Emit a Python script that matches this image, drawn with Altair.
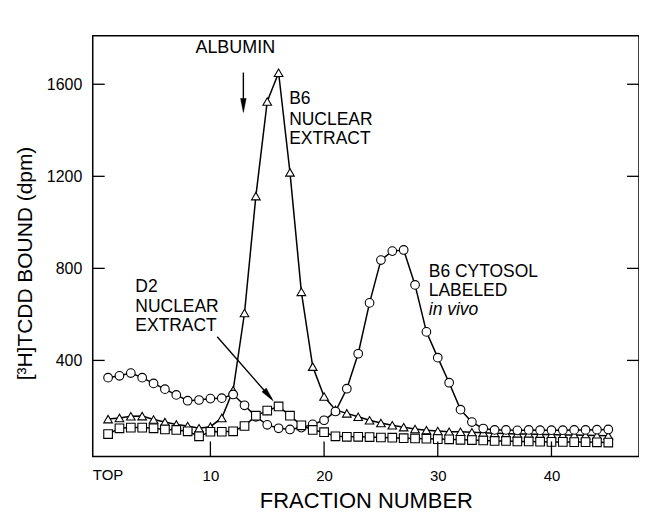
import altair as alt
import pandas as pd

# ---------------- data ----------------
fractions = list(range(1, 46))

b6_nuclear = [145, 150, 157, 158, 143, 132, 122, 115, 105, 112,
              150, 270, 606, 1114, 1525, 1650, 1217, 698, 373, 243,
              185, 170, 155, 140, 128, 118, 110, 102, 97, 93,
              90, 90, 88, 86, 84, 82, 80, 80, 78, 78,
              76, 76, 75, 74, 73]

b6_cytosol = [325, 333, 345, 325, 300, 275, 250, 225, 228, 234,
              236, 252, 205, 155, 120, 105, 100, 108, 122, 140,
              178, 277, 429, 650, 836, 875, 880, 728, 524, 412,
              303, 186, 132, 104, 98, 98, 96, 98, 97, 97,
              97, 98, 98, 99, 100]

d2_nuclear = [80, 105, 108, 108, 105, 100, 98, 92, 70, 90,
              90, 92, 115, 160, 182, 200, 160, 118, 98, 88,
              70, 68, 68, 67, 65, 64, 62, 61, 60, 58,
              57, 55, 54, 52, 50, 50, 48, 48, 47, 46,
              46, 45, 45, 44, 43]

series_names = ["B6 nuclear", "B6 cytosol", "D2 nuclear"]
series_shapes = ["triangle-up", "circle", "square"]

x_tick_values = [10, 20, 30, 40]
y_tick_values = [400, 800, 1200, 1600]

# annotation table (fraction, dpm, text)
ann_fraction = [16.93, 16.93, 16.93, 29.21, 29.21, 3.4, 3.4, 3.4]
ann_value = [1534, 1443, 1361, 784, 702, 720, 633, 548]
ann_text = ["B6", "NUCLEAR", "EXTRACT", "B6 CYTOSOL", "LABELED", "D2", "NUCLEAR", "EXTRACT"]

italic_fraction = [29.21]
italic_value = [620]
italic_text = ["in vivo"]

albumin_fraction = [12.19]
albumin_value = [1759]

# arrows: shafts and heads
arrow_id = ["alb", "alb", "d2", "d2"]
arrow_fraction = [12.9, 12.9, 10.6, 15.4]
arrow_value = [1651, 1500, 503, 232]
head_fraction = [12.9, 15.12]
head_value = [1508, 248]
head_angle = [0, 320]

# ---------------- layout ----------------
W, H = 548, 422
FONT = "Liberation Sans"

rows = []
for name, vals in zip(series_names, [b6_nuclear, b6_cytosol, d2_nuclear]):
    for f, v in zip(fractions, vals):
        rows.append({"fraction": f, "value": v, "series": name})
df = pd.DataFrame(rows)

xscale = alt.Scale(domain=[-0.35, 47.7], nice=False, zero=False)
yscale = alt.Scale(domain=[-17, 1811], nice=False, zero=False)

xenc = alt.X("fraction:Q", scale=xscale,
             axis=alt.Axis(values=x_tick_values, ticks=False, tickSize=0, domain=False, grid=False,
                           labelFont=FONT, labelFontSize=15, labelColor="black", labelPadding=12,
                           title="FRACTION NUMBER", titleFont=FONT, titleFontSize=22,
                           titleFontWeight="normal", titleColor="black",
                           titleY=44, titleBaseline="middle"))
yenc = alt.Y("value:Q", scale=yscale,
             axis=alt.Axis(values=y_tick_values, format="d", ticks=False, tickSize=0, domain=False,
                           grid=False, labelFont=FONT, labelFontSize=16, labelColor="black",
                           labelPadding=11,
                           title="[³H]TCDD BOUND (dpm)", titleFont=FONT, titleFontSize=21,
                           titleFontWeight="normal", titleColor="black",
                           titleX=-67, titleY=228, titleAngle=270,
                           titleAlign="center", titleBaseline="middle"))

base = alt.Chart(df)
lines = base.mark_line(color="black", strokeWidth=1.5).encode(x=xenc, y=yenc, detail="series:N")
points = base.mark_point(filled=True, fill="white", stroke="black", strokeWidth=1.1,
                         opacity=1, size=75).encode(
    x=xenc, y=yenc,
    shape=alt.Shape("series:N", scale=alt.Scale(domain=series_names, range=series_shapes), legend=None))

# inward tick marks
ytick_df = pd.DataFrame({"value": y_tick_values})
yticks = alt.Chart(ytick_df).mark_rule(color="black", strokeWidth=1.3).encode(
    y=yenc, x=alt.value(0), x2=alt.value(12))
yticks_r = alt.Chart(ytick_df).mark_rule(color="black", strokeWidth=1.3).encode(
    y=yenc, x=alt.value(W - 12), x2=alt.value(W))
xtick_df = pd.DataFrame({"fraction": x_tick_values})
xticks = alt.Chart(xtick_df).mark_rule(color="black", strokeWidth=1.3).encode(
    x=xenc, y=alt.value(H), y2=alt.value(H - 15))

top_df = pd.DataFrame({"fraction": [1], "label": ["TOP"]})
top_label = alt.Chart(top_df).mark_text(font=FONT, fontSize=15, color="black",
                                        baseline="middle", align="center").encode(
    x=xenc, y=alt.value(H + 19), text="label:N")

# annotations
ann_df = pd.DataFrame({"fraction": ann_fraction, "value": ann_value, "label": ann_text})
ann = alt.Chart(ann_df).mark_text(font=FONT, fontSize=17.5, color="black", align="left",
                                  baseline="middle").encode(x=xenc, y=yenc, text="label:N")
it_df = pd.DataFrame({"fraction": italic_fraction, "value": italic_value, "label": italic_text})
ann_it = alt.Chart(it_df).mark_text(font=FONT, fontSize=17.5, fontStyle="italic", color="black",
                                    align="left", baseline="middle").encode(x=xenc, y=yenc, text="label:N")
alb_df = pd.DataFrame({"fraction": albumin_fraction, "value": albumin_value, "label": ["ALBUMIN"]})
alb = alt.Chart(alb_df).mark_text(font=FONT, fontSize=18, color="black", align="center",
                                  baseline="middle").encode(x=xenc, y=yenc, text="label:N")

arrow_df = pd.DataFrame({"fraction": arrow_fraction, "value": arrow_value, "aid": arrow_id})
shafts = alt.Chart(arrow_df).mark_line(color="black", strokeWidth=1.4).encode(
    x=xenc, y=yenc, detail="aid:N")
head_df = pd.DataFrame({"fraction": head_fraction, "value": head_value, "ang": head_angle})
heads = alt.Chart(head_df).mark_point(shape="M-0.4,-1L0.4,-1L0,1Z", filled=True, fill="black",
                                      stroke="black", strokeWidth=0.5, size=196, opacity=1).encode(
    x=xenc, y=yenc, angle=alt.Angle("ang:Q", scale=None))

chart = alt.layer(lines, points, yticks, yticks_r, xticks, top_label, ann, ann_it, alb, shafts, heads).properties(
    width=W, height=H,
    autosize=alt.AutoSizeParams(type="none"),
    padding={"left": 85, "top": 27, "right": 0, "bottom": 55},
    background="white",
).configure_view(stroke="black", strokeWidth=1.5)

chart.save("out.html", embed_options={"renderer": "svg", "actions": False})
